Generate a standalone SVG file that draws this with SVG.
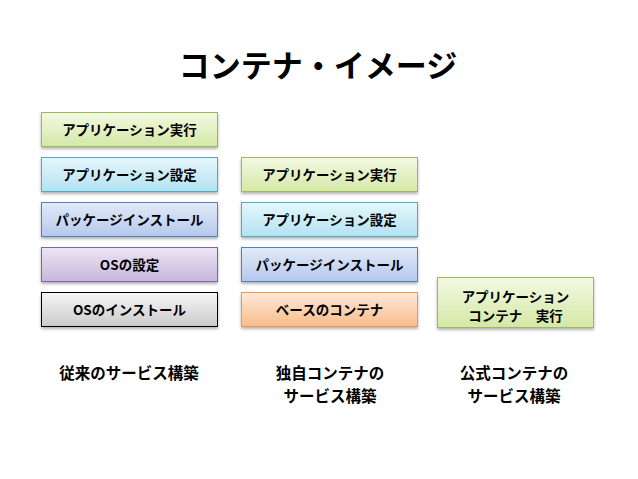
<svg xmlns="http://www.w3.org/2000/svg" width="638" height="479" viewBox="0 0 638 479">
<style>
text{font-family:"Noto Sans CJK JP","Noto Sans CJK SC",sans-serif;font-weight:700;fill:#000;text-anchor:middle}
.t{font-size:31px}
.b{font-size:13.5px}
.l{font-size:15.5px}
rect{stroke-width:1}
</style>
<defs>
<filter id="sh" x="-10%" y="-20%" width="120%" height="150%">
<feDropShadow dx="0" dy="2" stdDeviation="1.5" flood-color="#000" flood-opacity="0.3"/>
</filter>
<linearGradient id="gG" x1="0" y1="0" x2="0" y2="1"><stop offset="0" stop-color="#f3f9e2"/><stop offset="1" stop-color="#d4e8a6"/></linearGradient>
<linearGradient id="gC" x1="0" y1="0" x2="0" y2="1"><stop offset="0" stop-color="#e6f7fc"/><stop offset="1" stop-color="#b2e2f2"/></linearGradient>
<linearGradient id="gB" x1="0" y1="0" x2="0" y2="1"><stop offset="0" stop-color="#e3eaf8"/><stop offset="1" stop-color="#b4c8ed"/></linearGradient>
<linearGradient id="gP" x1="0" y1="0" x2="0" y2="1"><stop offset="0" stop-color="#ece5f3"/><stop offset="1" stop-color="#c7b7dc"/></linearGradient>
<linearGradient id="gK" x1="0" y1="0" x2="0" y2="1"><stop offset="0" stop-color="#f6f6f6"/><stop offset="1" stop-color="#cbcbcb"/></linearGradient>
<linearGradient id="gO" x1="0" y1="0" x2="0" y2="1"><stop offset="0" stop-color="#fee9d7"/><stop offset="1" stop-color="#f9bc8b"/></linearGradient>
</defs>
<rect width="638" height="479" fill="#fff"/>
<text class="t" x="318" y="77">コンテナ・イメージ</text>

<g id="l-app-run"><rect x="41.5" y="112.5" width="176" height="34" fill="url(#gG)" stroke="#9bbb59" filter="url(#sh)"/><text class="b" x="129.5" y="134.5">アプリケーション実行</text></g>
<g id="l-app-set"><rect x="41.5" y="157.5" width="176" height="34" fill="url(#gC)" stroke="#4bacc6" filter="url(#sh)"/><text class="b" x="129.5" y="179.5">アプリケーション設定</text></g>
<g id="l-pkg"><rect x="41.5" y="202.5" width="176" height="34" fill="url(#gB)" stroke="#4f81bd" filter="url(#sh)"/><text class="b" x="129.5" y="224.5">パッケージインストール</text></g>
<g id="l-os-set"><rect x="41.5" y="247.5" width="176" height="34" fill="url(#gP)" stroke="#8064a2" filter="url(#sh)"/><text class="b" x="129.5" y="269.5">OSの設定</text></g>
<g id="l-os-inst"><rect x="41.5" y="292.5" width="176" height="34" fill="url(#gK)" stroke="#000" filter="url(#sh)"/><text class="b" x="129.5" y="314.5">OSのインストール</text></g>

<g id="m-app-run"><rect x="241.5" y="157.5" width="176" height="34" fill="url(#gG)" stroke="#9bbb59" filter="url(#sh)"/><text class="b" x="329.5" y="179.5">アプリケーション実行</text></g>
<g id="m-app-set"><rect x="241.5" y="202.5" width="176" height="34" fill="url(#gC)" stroke="#4bacc6" filter="url(#sh)"/><text class="b" x="329.5" y="224.5">アプリケーション設定</text></g>
<g id="m-pkg"><rect x="241.5" y="247.5" width="176" height="34" fill="url(#gB)" stroke="#4f81bd" filter="url(#sh)"/><text class="b" x="329.5" y="269.5">パッケージインストール</text></g>
<g id="m-base"><rect x="241.5" y="292.5" width="176" height="34" fill="url(#gO)" stroke="#f79646" filter="url(#sh)"/><text class="b" x="329.5" y="314.5">ベースのコンテナ</text></g>

<g id="r-app"><rect x="437.5" y="277.5" width="156" height="50" fill="url(#gG)" stroke="#9bbb59" filter="url(#sh)"/><text class="b" x="515.5" y="302">アプリケーション</text><text class="b" x="515.5" y="321">コンテナ　実行</text></g>

<g id="connectors"></g>

<g id="labels">
<text class="l" x="129" y="379">従来のサービス構築</text>
<text class="l" x="330" y="379">独自コンテナの</text>
<text class="l" x="330" y="402">サービス構築</text>
<text class="l" x="514" y="379">公式コンテナの</text>
<text class="l" x="514" y="402">サービス構築</text>
</g>
</svg>
